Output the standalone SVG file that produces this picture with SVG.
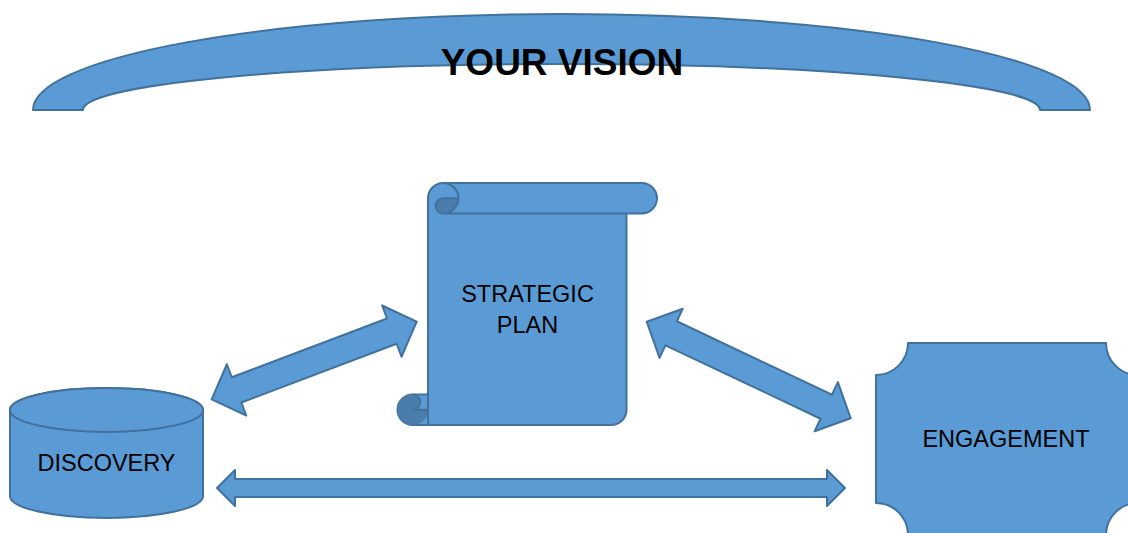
<svg xmlns="http://www.w3.org/2000/svg" width="1128" height="533" viewBox="0 0 1128 533">
<style>
.shape{fill:#5B9BD5;stroke:#41719C;stroke-width:2;stroke-linejoin:round}
.dark{fill:#4A7DAB;stroke:none}
.line{fill:none;stroke:#41719C;stroke-width:2;stroke-linejoin:round}
.lbl{font-family:"Liberation Sans",Arial,sans-serif;font-size:23.5px;fill:#000;text-anchor:middle}
.title{font-family:"Liberation Sans",Arial,sans-serif;font-size:37px;font-weight:bold;fill:#000;text-anchor:middle}
</style>
<rect width="1128" height="533" fill="#fff"/>
<g id="vision">
<path class="shape" d="M33,110 A528.5,96 0 0 1 1090,110 L1040,110 A478.5,46 0 0 0 83,110 Z"/>
<text class="title" x="562" y="75">YOUR VISION</text>
</g>
<g id="connectors">
<polygon class="shape" transform="translate(314.2,360.5) rotate(-20.73)" points="-109.6,0 -83,-27.4 -83,-13.5 83,-13.5 83,-27.4 109.6,0 83,27.4 83,13.5 -83,13.5 -83,27.4"/>
<polygon class="shape" transform="translate(748.7,370) rotate(25.34)" points="-112.8,0 -85.8,-27.2 -85.8,-13.3 85.8,-13.3 85.8,-27.2 112.8,0 85.8,27.2 85.8,13.3 -85.8,13.3 -85.8,27.2"/>
<polygon class="shape" points="217,488 235,470 235,479 827,479 827,470 845,488 827,506 827,497 235,497 235,506"/>
</g>
<g id="strategic-plan">
<path class="shape" d="M428,394.5 L428,198.25 A15.25,15.25 0 0 1 443.25,183 L641.75,183 A15.25,15.25 0 0 1 641.75,213.5 L626.5,213.5 L626.5,409.75 A15.25,15.25 0 0 1 611.25,425 L412.75,425 A15.25,15.25 0 0 1 412.75,394.5 Z"/>
<path class="dark" d="M458.5,198.25 A15.25,15.25 0 0 1 443.25,213.5 A7.6,7.6 0 0 1 443.25,198.25 Z"/>
<path class="dark" d="M428,409.75 A15.25,15.25 0 1 1 412.75,394.5 A7.6,7.6 0 0 1 412.75,409.75 Z"/>
<path class="line" d="M443.25,183 A15.25,15.25 0 0 1 443.25,213.5 A7.6,7.6 0 0 1 443.25,198.25 L458.5,198.25 M626.5,213.5 L443.25,213.5 M412.75,394.5 A7.6,7.6 0 0 1 412.75,409.75 L428,409.75 M428,394.5 L428,425"/>
<text class="lbl" x="527.5" y="302">STRATEGIC</text>
<text class="lbl" x="527.5" y="333">PLAN</text>
</g>
<g id="discovery">
<path class="shape" d="M10,410 L10,496 A96.5,22 0 0 0 203,496 L203,410 A96.5,22 0 0 0 10,410 Z"/>
<ellipse class="shape" cx="106.5" cy="410" rx="96.5" ry="22"/>
<text class="lbl" x="106.5" y="471">DISCOVERY</text>
</g>
<g id="engagement">
<path class="shape" d="M876,375 A32,32 0 0 0 908,343 L1106,343 A32,32 0 0 0 1138,375 L1138,503 A32,32 0 0 0 1106,535 L908,535 A32,32 0 0 0 876,503 Z"/>
<text class="lbl" x="1006" y="447">ENGAGEMENT</text>
</g>
</svg>
